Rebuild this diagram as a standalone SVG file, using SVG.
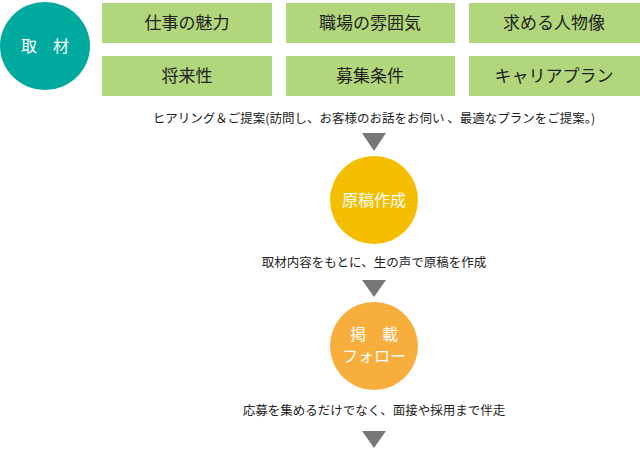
<svg xmlns="http://www.w3.org/2000/svg" width="640" height="450" viewBox="0 0 640 450">
<style>
text{font-family:"Noto Sans CJK JP","Liberation Sans",sans-serif}
.b{fill:#b1d67b}
.bt{font-size:17px;fill:#222;text-anchor:middle}
.c{font-size:12.5px;fill:#222;text-anchor:middle}
.w{font-size:16px;fill:#fff;text-anchor:middle}
.tri{fill:#777}
</style>
<g id="n-shuzai"><ellipse cx="45" cy="46" rx="45" ry="44" fill="#00a99d"/><text class="w" x="45" y="52">取　材</text></g>
<g id="n1"><rect class="b" x="102" y="3" width="170" height="40"/><text class="bt" x="187" y="29">仕事の魅力</text></g>
<g id="n2"><rect class="b" x="286" y="3" width="169" height="40"/><text class="bt" x="370" y="29">職場の雰囲気</text></g>
<g id="n3"><rect class="b" x="469" y="3" width="171" height="40"/><text class="bt" x="554" y="29">求める人物像</text></g>
<g id="n4"><rect class="b" x="102" y="56" width="170" height="40"/><text class="bt" x="187" y="82">将来性</text></g>
<g id="n5"><rect class="b" x="286" y="56" width="169" height="40"/><text class="bt" x="370" y="82">募集条件</text></g>
<g id="n6"><rect class="b" x="469" y="56" width="171" height="40"/><text class="bt" x="554" y="82">キャリアプラン</text></g>
<text class="c" x="374" y="123">ヒアリング＆ご提案(訪問し、お客様のお話をお伺い 、最適なプランをご提案。)</text>
<g id="connectors">
<polygon class="tri" points="362,133 386,133 374,151"/>
<polygon class="tri" points="362,280 386,280 374,297"/>
<polygon class="tri" points="362,431 386,431 374,448"/>
</g>
<g id="n-genkou"><circle cx="374" cy="200" r="44" fill="#f5be00"/><text class="w" x="374" y="206">原稿作成</text></g>
<text class="c" x="374" y="267">取材内容をもとに、生の声で原稿を作成</text>
<g id="n-keisai"><circle cx="374" cy="346" r="44" fill="#f8ae3c"/><text class="w" x="374" y="340">掲　載</text><text class="w" x="374" y="362">フォロー</text></g>
<text class="c" x="374" y="415">応募を集めるだけでなく、面接や採用まで伴走</text>
</svg>
